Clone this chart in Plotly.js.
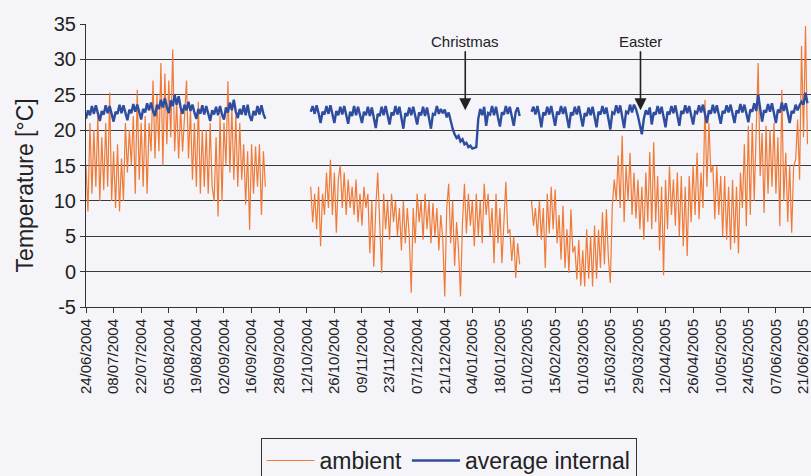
<!DOCTYPE html>
<html>
<head>
<meta charset="utf-8">
<script src="https://cdn.plot.ly/plotly-3.0.1.min.js"></script>
<style>html,body{margin:0;padding:0;background:#f4f4f9;}</style>
</head>
<body>
<div id="chart" style="width:811px;height:476px;"></div>
<script>
// x-axis category labels (one every 14 logged days)
const tickLabels = ["24/06/2004","08/07/2004","22/07/2004","05/08/2004","19/08/2004","02/09/2004","16/09/2004",
  "28/09/2004","12/10/2004","26/10/2004","09/11/2004","23/11/2004","07/12/2004","21/12/2004","04/01/2005",
  "18/01/2005","01/02/2005","15/02/2005","01/03/2005","15/03/2005","29/03/2005","12/04/2005","26/04/2005",
  "10/05/2005","24/05/2005","07/06/2005","21/06/2005"];
const tickStep = 14;
const yTicks = [-5, 0, 5, 10, 15, 20, 25, 30, 35];

// logging segments: start position (day index) of each block of readings
const startA = 0, startB = 114, startC = 226;

// ambient temperature [°C]
const ambientA = [
  15, 8.5, 21, 11, 20, 12, 22, 10, 19, 11.5,
  21, 12, 25.3, 10, 17, 9, 18, 8.5, 16, 10,
  21, 14, 20, 15, 22, 11, 25.7, 13, 21, 12,
  22, 11, 21, 17, 27, 16, 25, 17, 29.5, 15,
  28, 18, 27, 19, 31.4, 17, 24, 16, 23, 17,
  22, 27, 16, 23, 13, 21, 12, 24, 11, 20,
  12, 20, 11, 21, 12, 10, 19, 7.8, 22, 10,
  21, 15, 26.9, 14, 23, 13, 22, 12, 21, 13,
  18, 9.5, 17, 5.9, 18, 11, 17.7, 12, 18, 8,
  17, 12];
const ambientB = [
  12, 7, 11, 6, 12, 3.6, 11, 8, 14, 9,
  15.8, 8, 14, 5.5, 13, 15, 9, 14, 8, 13,
  9, 12, 8, 13, 7, 11, 6.5, 12, 9, 11,
  2.6, 10, 0.7, 9, 14, 5.5, -0.2, 11, 6, 10,
  4.5, 11, 7, 10, 5, 9, 3, 10, 4, 9,
  5, -3, 9, 4, 11, 7, 10, 4.5, 11, 6,
  10, 4, 9.7, 5, 9, 3, 8, 4.5, -3.5, 9,
  12.4, 4, 10, 0.8, 7, 3, -3.5, 7, 12.4, 5.4,
  11, 6.5, 10, 3.6, 11, 5, 10, 4, 12.4, 8,
  11, 5, 9, 1.2, 11, 4, 9, 1.2, 8, 12.7,
  5.4, 6, 1.5, 5, -0.9, 4, 1];
const ambientC = [
  10, 6.5, 9, 5, 10, 4.5, 9, 0.5, 11, 5.4,
  12, 6, 11.6, 4, 8, 1.7, 9.3, 0.5, 6, -0.2,
  8.8, 2.7, 3.6, -1.1, 4.5, -2, 3, -2.1, 6, -1,
  5, -2.1, 6.5, -1, 5.9, 0.5, 8.4, 1, 8.8, 2,
  -1.6, 9.3, 13, 10, 16.4, 9, 19.2, 7, 15, 10,
  16.8, 8, 14, 7.5, 13, 6, 12, 4.5, 14, 7,
  16.9, 6, 18.3, 7, 13.5, 3, 12, -0.5, 13, 6,
  14.9, 8, 13, 6.5, 14, 5, 13.5, 3.6, 12, 2.2,
  13.5, 7, 15, 8, 16.8, 7.4, 14, 9, 24.3, 12,
  21, 14, 15, 7.4, 14.9, 8, 13.5, 5, 13.5, 4.5,
  12, 3.1, 13, 4, 12, 2.6, 14, 9, 18, 6.4,
  20.6, 8, 21, 10, 20, 29.5, 13.5, 19.6, 8.3, 20.6,
  11, 20, 12, 21, 11, 19, 6.4, 25.7, 10, 16.8,
  7, 15, 5.5, 14.9, 15.8, 21.5, 13, 31.9, 19, 34.7, 18];

// average internal temperature [°C]
const internalA = [
  21.6, 22.8, 22.1, 23.4, 22.3, 23.5, 22.4,
  21.3, 22.7, 22.2, 23.5, 22.4, 23.4, 22.2,
  21.2, 22.6, 22.3, 23.6, 22.4, 23.5, 22.3,
  21.4, 22.9, 22.4, 23.7, 22.6, 23.6, 22.5,
  21.5, 23.0, 22.5, 23.8, 22.8, 23.9, 22.7,
  22.0, 23.6, 23.0, 24.3, 23.2, 24.5, 23.3,
  22.4, 24.2, 23.4, 25.0, 23.6, 24.8, 23.2,
  22.3, 23.6, 22.8, 24.0, 22.7, 23.6, 22.5,
  21.6, 23.0, 22.3, 23.5, 22.2, 23.4, 22.1,
  21.3, 22.8, 22.2, 23.3, 22.1, 23.4, 22.2,
  21.5, 23.2, 22.5, 23.9, 22.8, 24.3, 22.6,
  21.7, 23.0, 22.2, 23.5, 22.1, 23.6, 22.0,
  21.3, 22.7, 22.1, 23.4, 22.2, 23.5, 22.3,
  21.6];
const internalB = [
  22.6, 23.4, 22.3, 23.5, 22.4,
  21.0, 22.6, 22.2, 23.4, 22.3, 23.5, 22.2,
  21.0, 22.7, 22.1, 23.3, 22.2, 23.4, 22.1,
  20.9, 22.6, 22.0, 23.4, 22.1, 23.3, 22.0,
  21.0, 22.6, 22.1, 23.3, 22.0, 23.2, 21.8,
  20.3, 22.3, 22.0, 23.3, 22.1, 23.4, 21.9,
  20.8, 22.5, 22.1, 23.4, 22.2, 23.3, 21.7,
  20.2, 22.4, 22.0, 23.2, 22.1, 23.3, 21.8,
  20.8, 22.5, 22.1, 23.3, 22.0, 23.2, 21.6,
  20.2, 22.3, 22.2, 23.4, 22.3, 23.0, 22.4,
  22.9, 21.8, 22.5, 21.3, 20.2, 19.4, 18.9,
  19.2, 18.4, 18.7, 18.0, 18.2, 17.6, 17.8,
  17.4, 17.5, 17.6, 21.6, 23.0, 22.1, 23.3,
  20.6, 22.4, 22.2, 23.4, 22.1, 23.3, 21.8,
  20.5, 22.5, 22.2, 23.4, 22.3, 23.3, 21.9,
  20.6, 22.6, 23.2, 22.0];
const internalC = [
  22.6, 23.3, 22.2, 23.4, 22.1,
  20.4, 22.5, 22.1, 23.3, 22.2, 23.4, 22.0,
  20.6, 22.6, 22.2, 23.4, 22.3, 23.3, 21.9,
  20.3, 22.5, 22.1, 23.3, 22.2, 23.4, 21.8,
  20.5, 22.4, 22.0, 23.2, 22.1, 23.3, 21.9,
  20.4, 22.6, 22.2, 23.4, 22.3, 23.2, 21.8,
  20.1, 22.5, 22.3, 23.5, 22.4, 23.5, 22.0,
  20.3, 22.6, 22.4, 23.6, 22.5, 23.6, 23.0,
  22.0, 20.5, 19.4, 21.6, 22.8, 22.2, 23.2,
  20.8, 22.5, 22.2, 23.4, 22.3, 23.3, 21.9,
  20.4, 22.6, 22.2, 23.4, 22.4, 23.5, 22.0,
  20.6, 22.7, 22.3, 23.5, 22.4, 23.4, 22.1,
  20.8, 22.6, 22.4, 23.5, 22.5, 23.6, 22.3,
  21.0, 22.8, 22.3, 23.6, 22.4, 23.5, 22.2,
  20.9, 22.7, 22.4, 23.5, 22.5, 23.6, 22.3,
  21.0, 22.8, 22.4, 23.7, 22.5, 23.6, 22.4,
  21.1, 22.9, 22.6, 23.8, 22.7, 25.0, 22.8,
  21.2, 22.8, 22.5, 23.7, 22.6, 23.8, 22.4,
  21.0, 22.9, 22.5, 23.9, 22.7, 23.8, 22.3,
  21.0, 22.7, 22.4, 23.6, 22.8, 23.5, 24.0,
  23.6, 25.3, 23.8];

function join(segs) {
  const x = [], y = [];
  segs.forEach((s, k) => {
    if (k > 0) { x.push(s.start - 0.5); y.push(null); }
    s.vals.forEach((v, i) => { x.push(s.start + i); y.push(v); });
  });
  return {x, y};
}
const amb = join([{start: startA, vals: ambientA}, {start: startB, vals: ambientB}, {start: startC, vals: ambientC}]);
const intl = join([{start: startA, vals: internalA}, {start: startB, vals: internalB}, {start: startC, vals: internalC}]);

const FONT = 'Liberation Sans, Arial, sans-serif';
const BG = '#f4f4f9';

const traces = [
  {type: 'scatter', mode: 'lines', name: 'ambient', x: amb.x, y: amb.y,
   line: {color: '#f07a36', width: 1.2}, connectgaps: false},
  {type: 'scatter', mode: 'lines', name: 'average internal', x: intl.x, y: intl.y,
   line: {color: '#2f4d9e', width: 2.4}, connectgaps: false}
];

const tickvals = tickLabels.map((_, i) => i * tickStep);

const layout = {
  width: 811, height: 476,
  margin: {l: 86, r: 0, t: 24, b: 169, autoexpand: false},
  paper_bgcolor: BG, plot_bgcolor: BG,
  font: {family: FONT, color: '#222'},
  xaxis: {
    range: [0, 367.8], tickmode: 'array', tickvals: tickvals, ticktext: tickLabels,
    tickangle: -90, ticks: 'outside', ticklen: 5, tickcolor: '#333', tickwidth: 1,
    showgrid: false, zeroline: false, showline: true, linecolor: '#333', linewidth: 1,
    automargin: false, ticklabeloverflow: 'allow',
    tickfont: {family: FONT, size: 15, color: '#222'}
  },
  yaxis: {
    range: [-5, 35], tickmode: 'array', tickvals: yTicks, ticktext: yTicks.map(String),
    ticks: 'outside', ticklen: 5, tickcolor: '#333',
    showgrid: true, gridcolor: '#3a3a3a', gridwidth: 1, zeroline: false,
    showline: true, linecolor: '#333', linewidth: 1, automargin: false,
    tickfont: {family: FONT, size: 20, color: '#222'}
  },
  showlegend: true,
  legend: {orientation: 'h', x: 0.5, xanchor: 'center', y: -0.463, yanchor: 'top',
           bordercolor: '#333', borderwidth: 1, bgcolor: BG, itemwidth: 48,
           font: {family: FONT, size: 23, color: '#222'}},
  annotations: [
    {text: 'Temperature [°C]', xref: 'paper', yref: 'paper', x: -0.084, y: 0.43,
     xanchor: 'center', yanchor: 'middle', textangle: -90, showarrow: false,
     font: {family: FONT, size: 23, color: '#222'}},
    {text: 'Christmas', x: 192.4, y: 22.8, xref: 'x', yref: 'y', showarrow: true,
     ax: 0, ay: -69, arrowhead: 2, arrowsize: 1.5, arrowwidth: 1.6, arrowcolor: '#222',
     font: {family: FONT, size: 15, color: '#222'}},
    {text: 'Easter', x: 281.3, y: 22.8, xref: 'x', yref: 'y', showarrow: true,
     ax: 0, ay: -69, arrowhead: 2, arrowsize: 1.5, arrowwidth: 1.6, arrowcolor: '#222',
     font: {family: FONT, size: 15, color: '#222'}}
  ]
};

Plotly.newPlot('chart', traces, layout, {displayModeBar: false, staticPlot: true});
</script>
</body>
</html>
